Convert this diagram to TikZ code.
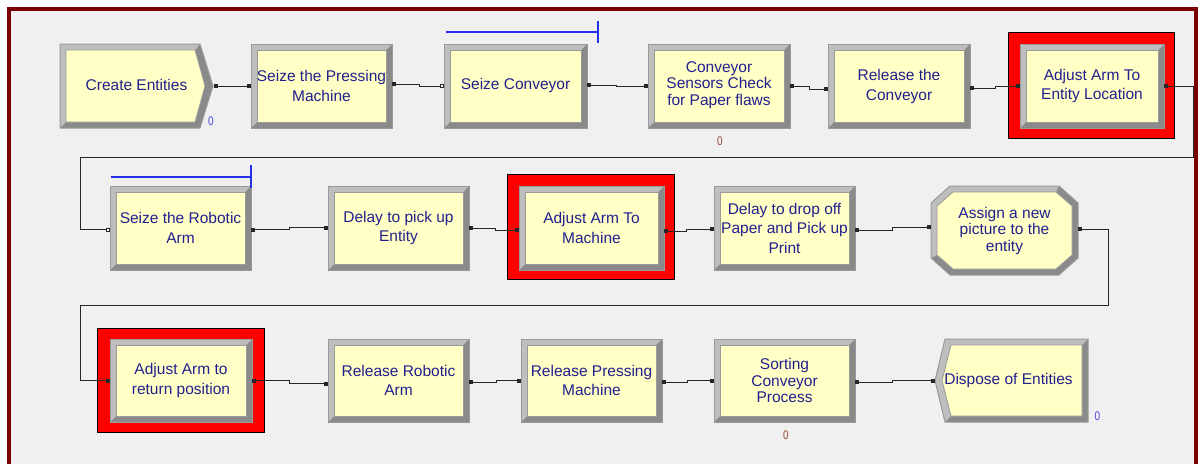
\documentclass[tikz,border=0pt]{standalone}
\usepackage{fontspec}
\usepackage{graphicx}
\setmainfont{Liberation Sans}
\usetikzlibrary{calc,arrows.meta}
\definecolor{framered}{HTML}{7A0000}
\definecolor{bgray}{HTML}{F0F0F0}
\definecolor{yel}{HTML}{FFFFC6}
\definecolor{bvlight}{HTML}{BEBEBE}
\definecolor{bvdark}{HTML}{8A8A8A}
\definecolor{bvline}{HTML}{9A9A9A}
\definecolor{txt}{HTML}{22208E}
\definecolor{qblue}{HTML}{2430E8}
\definecolor{cntblue}{HTML}{4A4AE0}
\definecolor{cntred}{HTML}{A0483A}
\newcommand\modpoly[3]{%
  \fill[bvdark] #1;
  \fill[bvlight] #2;
  \draw[bvline, line width=1pt] #1;
  \filldraw[fill=yel, draw=bvline, line width=0.8pt] #3;
}
\newcommand\rmod[4]{%
  \modpoly{(#1,#2) rectangle (#3,#4)}%
   {(#1,#4) -- (#1,#2) -- (#3,#2) -- ($(#3,#2)+(-6,6)$) -- ($(#1,#2)+(6,6)$) -- ($(#1,#4)+(6,-6)$) -- cycle}%
   {($(#1,#2)+(6,6)$) rectangle ($(#3,#4)+(-6,-6)$)}%
}
\newcommand\redfr[4]{\filldraw[fill=red, draw=black, line width=1pt] (#1,#2) rectangle (#3,#4);}
\newcommand\cntzero{\scalebox{0.8}[1]{0}}
\tikzset{
  lbl/.style={inner sep=0pt, text=txt, align=center, font=\fontsize{15.5}{19.5}\selectfont},
  tight/.style={font=\fontsize{15.5}{16.5}\selectfont},
  conn/.style={draw=black!85, line width=1pt, {Square[length=4pt,width=4pt]}-{Square[length=4pt,width=4pt]}},
  connopen/.style={draw=black!85, line width=1pt, {Square[length=4pt,width=4pt]}-{Square[open,length=4pt,width=4pt,fill=white]}},
  queue/.style={draw=qblue, line width=1.3pt},
  cnt/.style={inner sep=0pt, font=\fontsize{12.5}{14}\selectfont},
}
\begin{document}
\begin{tikzpicture}[x=1pt, y=-1pt]
\useasboundingbox (0,0) rectangle (1204,463);
\clip (0,0) rectangle (1204,463);
\fill[white] (0,0) rectangle (1204,463);
\fill[bgray] (9,9) rectangle (1196,480);
\draw[framered, line width=4pt] (9,9) rectangle (1196,480);

% ---- row 1 shapes
\modpoly{(60,44) -- (200,44) -- (213,86) -- (200,128) -- (60,128) -- cycle}%
 {(60,128) -- (60,44) -- (200,44) -- (195,50) -- (66,50) -- (66,122) -- cycle}%
 {(66,50) -- (195,50) -- (205,86) -- (195,122) -- (66,122) -- cycle}
\rmod{251}{44}{392}{128}
\rmod{444}{44}{587}{128}
\rmod{648}{44}{790}{128}
\rmod{828}{44}{970}{128}
\redfr{1008}{32}{1174}{138}
\rmod{1020}{44}{1164}{128}
% ---- row 2 shapes
\rmod{110}{186}{251}{270}
\rmod{328}{186}{469}{270}
\redfr{507}{174}{674}{279}
\rmod{519}{186}{664}{270}
\rmod{714}{186}{855}{270}
\modpoly{(950,186) -- (1059,186) -- (1078,203) -- (1078,258) -- (1059,275) -- (950,275) -- (931,258) -- (931,203) -- cycle}%
 {(931,258) -- (931,203) -- (950,186) -- (1059,186) -- (1056,192) -- (953,192) -- (937,206) -- (937,255) -- cycle}%
 {(953,192) -- (1056,192) -- (1072,206) -- (1072,255) -- (1056,269) -- (953,269) -- (937,255) -- (937,206) -- cycle}
% ---- row 3 shapes
\redfr{97}{328}{264}{432}
\rmod{110}{339}{252}{422}
\rmod{328}{339}{469}{422}
\rmod{521}{339}{662}{422}
\rmod{714}{339}{855}{422}
\modpoly{(945,339) -- (1088,339) -- (1088,422) -- (945,422) -- (935,380.5) -- cycle}%
 {(945,422) -- (935,380.5) -- (945,339) -- (1088,339) -- (1082,345) -- (951,345) -- (942,380.5) -- (951,416) -- cycle}%
 {(951,345) -- (1082,345) -- (1082,416) -- (951,416) -- (942,380.5) -- cycle}

% ---- nodes
\node[lbl, minimum width=153pt, minimum height=84pt] (create) at (136.5,85) {Create Entities};
\node[lbl, minimum width=141pt, minimum height=84pt] (seizeP) at (321.5,86) {Seize the Pressing\\Machine};
\node[lbl, minimum width=143pt, minimum height=84pt] (seizeC) at (515.5,85) {Seize Conveyor};
\node[lbl, tight, minimum width=142pt, minimum height=84pt] (sensors) at (719,85) {Conveyor\\Sensors Check\\for Paper flaws};
\node[lbl, minimum width=142pt, minimum height=84pt] (releaseC) at (899,86.5) {Release the\\Conveyor};
\node[lbl, minimum width=144pt, minimum height=84pt] (adjEnt) at (1092,86) {Adjust Arm To\\Entity Location};

\node[lbl, minimum width=141pt, minimum height=84pt] (seizeR) at (180.5,228) {Seize the Robotic\\Arm};
\node[lbl, minimum width=141pt, minimum height=84pt] (delayPick) at (398.5,228) {Delay to pick up\\Entity};
\node[lbl, minimum width=145pt, minimum height=84pt] (adjMach) at (591.5,228) {Adjust Arm To\\Machine};
\node[lbl, minimum width=141pt, minimum height=84pt] (delayDrop) at (784.5,228) {Delay to drop off\\Paper and Pick up\\Print};
\node[lbl, tight, minimum width=147pt, minimum height=89pt] (assign) at (1004.5,230.5) {Assign a new\\picture to the\\entity};

\node[lbl, minimum width=142pt, minimum height=83pt] (adjRet) at (181,380.5) {Adjust Arm to\\return position};
\node[lbl, minimum width=141pt, minimum height=83pt] (releaseR) at (398.5,380.5) {Release Robotic\\Arm};
\node[lbl, minimum width=141pt, minimum height=83pt] (releaseP) at (591.5,380.5) {Release Pressing\\Machine};
\node[lbl, tight, minimum width=141pt, minimum height=83pt] (sorting) at (784.5,380.5) {Sorting\\Conveyor\\Process};
\node[lbl, minimum width=153pt, minimum height=83pt] (dispose) at (1011.5,380.5) {\hspace*{-6pt}Dispose of Entities};

% ---- connectors row 1
\draw[conn] ($(create.east)+(1,1)$) -- (seizeP.west);
\draw[connopen] ($(seizeP.east)+(0,-2)$) -| ($(seizeC.west)+(-24,1)$) -- ($(seizeC.west)+(0,1)$);
\draw[conn] ($(seizeC.east)+(0,0)$) -| ($(sensors.west)+(-31,1)$) -- ($(sensors.west)+(0,1)$);
\draw[conn] ($(sensors.east)+(0,1)$) -| ($(releaseC.west)+(-18,2.5)$) -- ($(releaseC.west)+(0,2.5)$);
\draw[conn] ($(releaseC.east)+(0,1.5)$) -| ($(adjEnt.west)+(-24,0)$) -- (adjEnt.west);
% loop 1
\coordinate (l1a) at (1193,157);
\coordinate (l1b) at (80,157);
\draw[connopen] (adjEnt.east) -| (l1a) -- (l1b) |- ($(seizeR.west)+(0,1.5)$);
% row 2
\draw[conn] ($(seizeR.east)+(0,1.5)$) -| ($(delayPick.west)+(-38,-0.5)$) -- ($(delayPick.west)+(0,-0.5)$);
\draw[conn] (delayPick.east) -| ($(adjMach.west)+(-23,2)$) -- ($(adjMach.west)+(0,2)$);
\draw[conn] ($(adjMach.east)+(0,3)$) -| ($(delayDrop.west)+(-27,1)$) -- ($(delayDrop.west)+(0,1)$);
\draw[conn] ($(delayDrop.east)+(0,2)$) -| ($(assign.west)+(-38,-3.5)$) -- ($(assign.west)+(0,-3.5)$);
% loop 2
\coordinate (l2a) at (1108,305);
\coordinate (l2b) at (80,305);
\draw[conn] ($(assign.east)+(0,-1.5)$) -| (l2a) -- (l2b) |- (adjRet.west);
% row 3
\draw[conn] (adjRet.east) -| ($(releaseR.west)+(-38,3)$) -- ($(releaseR.west)+(0,3)$);
\draw[conn] ($(releaseR.east)+(0,1.5)$) -| ($(releaseP.west)+(-24,0)$) -- (releaseP.west);
\draw[conn] ($(releaseP.east)+(0,1.5)$) -| ($(sorting.west)+(-26,0)$) -- (sorting.west);
\draw[conn] ($(sorting.east)+(0,1.5)$) -| ($(dispose.west)+(-42,0)$) -- (dispose.west);

% ---- queue lines
\coordinate (q1a) at (446,32);
\coordinate (q1b) at (598,32);
\coordinate (q1t) at (598,21);
\coordinate (q1u) at (598,43);
\draw[queue] (q1a) -- (q1b);
\draw[queue] (q1t) -- (q1u);
\coordinate (q2a) at (111,177);
\coordinate (q2b) at (251,177);
\coordinate (q2t) at (251,165);
\coordinate (q2u) at (251,188);
\draw[queue] (q2a) -- (q2b);
\draw[queue] (q2t) -- (q2u);

% ---- counters
\node[cnt, text=cntblue] (n1) at (211,121) {\cntzero};
\node[cnt, text=cntred] (n2) at (720,141) {\cntzero};
\node[cnt, text=cntred] (n3) at (786,435) {\cntzero};
\node[cnt, text=cntblue] (n4) at (1097.5,416) {\cntzero};
\end{tikzpicture}
\end{document}
